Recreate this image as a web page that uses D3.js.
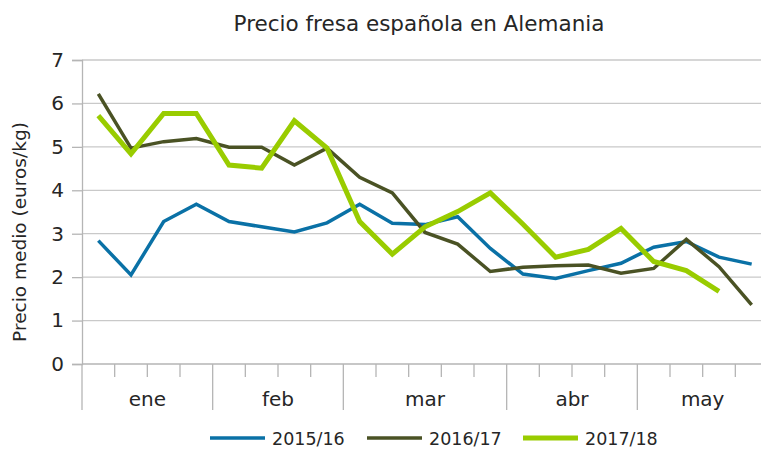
<!DOCTYPE html>
<html>
<head>
<meta charset="utf-8">
<script src="https://cdn.jsdelivr.net/npm/d3@7"></script>
<style>
  body { margin: 0; background: #fff; }
  text { font-family: "DejaVu Sans", sans-serif; fill: #262626; }
</style>
</head>
<body>
<div id="container"></div>
<script>
// months and how many weekly points fall in each
const months = ["ene", "feb", "mar", "abr", "may"];
const weeksPerMonth = [4, 4, 5, 4, 4];

const seriesNames = ["2015/16", "2016/17", "2017/18"];
const s2015 = [2.84, 2.05, 3.28, 3.68, 3.28, 3.16, 3.04, 3.25, 3.68, 3.24, 3.21, 3.39, 2.66, 2.07, 1.97, 2.15, 2.32, 2.69, 2.82, 2.46, 2.30];
const s2016 = [6.22, 4.97, 5.12, 5.19, 4.99, 4.99, 4.58, 4.97, 4.30, 3.94, 3.03, 2.76, 2.13, 2.23, 2.26, 2.28, 2.09, 2.20, 2.87, 2.24, 1.36];
const s2017 = [5.72, 4.84, 5.77, 5.77, 4.58, 4.51, 5.60, 4.97, 3.28, 2.53, 3.16, 3.51, 3.94, 3.22, 2.46, 2.64, 3.12, 2.36, 2.15, 1.67];
const yTicks = [0, 1, 2, 3, 4, 5, 6, 7];

const colors = ["#0a71a6", "#4a5224", "#99cc00"];
const widths = [3.5, 3.5, 5];

const W = 761, H = 449;
const nWeeks = d3.sum(weeksPerMonth);

const svg = d3.select("#container").append("svg")
    .attr("width", W).attr("height", H);

const x = d3.scaleBand().domain(d3.range(nWeeks)).range([82, 768]).padding(0);
const y = d3.scaleLinear().domain([0, 7]).range([364, 60]);

// gridlines
svg.append("g").selectAll("line").data(yTicks.filter(d => d > 0)).enter().append("line")
    .attr("x1", 82).attr("x2", W)
    .attr("y1", d => y(d)).attr("y2", d => y(d))
    .attr("stroke", "#c9c9c9").attr("stroke-width", 1.3);

// y axis
const yAxis = svg.append("g").attr("transform", "translate(82,0)")
    .call(d3.axisLeft(y).tickValues(yTicks).tickSize(10).tickPadding(8).tickFormat(d3.format("d")));
yAxis.select(".domain").attr("stroke", "#b5b5b5").attr("stroke-width", 1.3);
yAxis.selectAll(".tick line").attr("stroke", "#b5b5b5").attr("stroke-width", 1.3);
yAxis.selectAll(".tick text").style("font-size", "20px").attr("fill", "#262626")
    .style("font-family", "DejaVu Sans");

// x axis: week ticks, month separators
const gx = svg.append("g");
gx.append("line").attr("x1", 82).attr("x2", W).attr("y1", 364).attr("y2", 364)
    .attr("stroke", "#b5b5b5").attr("stroke-width", 1.3);
const starts = [0];
weeksPerMonth.forEach((n, i) => starts.push(starts[i] + n));
gx.selectAll("line.wk").data(d3.range(nWeeks + 1)).enter().append("line")
    .attr("class", "wk")
    .attr("x1", d => d < nWeeks ? x(d) : 768).attr("x2", d => d < nWeeks ? x(d) : 768)
    .attr("y1", 364)
    .attr("y2", d => starts.includes(d) ? 410 : 377)
    .attr("stroke", "#b5b5b5").attr("stroke-width", 1.3);
gx.selectAll("text").data(months).enter().append("text")
    .attr("x", (d, i) => (x(starts[i]) + (starts[i + 1] < nWeeks ? x(starts[i + 1]) : 768)) / 2)
    .attr("y", 406)
    .attr("text-anchor", "middle")
    .style("font-size", "20px")
    .text(d => d);

// lines
const line = d3.line().x((d, i) => x(i) + x.bandwidth() / 2).y(d => y(d));
[s2015, s2016, s2017].forEach((s, k) => {
  svg.append("path").datum(s)
    .attr("d", line)
    .attr("fill", "none")
    .attr("stroke", colors[k])
    .attr("stroke-width", widths[k])
    .attr("stroke-linejoin", "miter");
});

// title
svg.append("text").attr("x", 419).attr("y", 31).attr("text-anchor", "middle")
    .style("font-size", "21.5px").text("Precio fresa española en Alemania");

// y title
svg.append("text").attr("transform", "translate(26,232) rotate(-90)")
    .attr("text-anchor", "middle").style("font-size", "18.5px")
    .text("Precio medio (euros/kg)");

// legend
const legX = [210, 367, 523];
const leg = svg.append("g");
seriesNames.forEach((n, k) => {
  leg.append("line").attr("x1", legX[k]).attr("x2", legX[k] + 55)
    .attr("y1", 438).attr("y2", 438)
    .attr("stroke", colors[k]).attr("stroke-width", widths[k]);
  leg.append("text").attr("x", legX[k] + 62).attr("y", 445)
    .style("font-size", "17.5px").text(n);
});
</script>
</body>
</html>
